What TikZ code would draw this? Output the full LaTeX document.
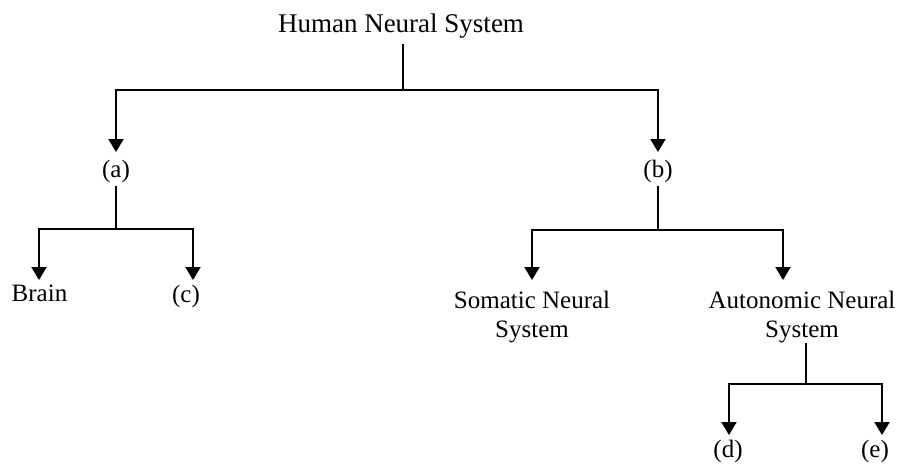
\documentclass[tikz,border=0pt]{standalone}
\usepackage{fontspec}
\setmainfont{Liberation Serif}
\usetikzlibrary{arrows.meta}
\begin{document}
\begin{tikzpicture}[x=1pt,y=-1pt,
  lbl/.style={inner sep=0pt, anchor=north, align=center, font=\fontsize{25}{29}\selectfont},
  ttl/.style={inner sep=0pt, anchor=north, font=\fontsize{27}{31}\selectfont},
  line/.style={line width=2pt},
  arr/.style={line width=2pt, -{Triangle[length=13pt,width=15pt]}}]
\useasboundingbox (0,0) rectangle (899,463);

% nodes
\node[ttl] (hns) at (401,13.5) {Human Neural System};
\node[lbl] (a) at (116,160) {(a)};
\node[lbl] (b) at (658,160) {(b)};
\node[lbl] (brain) at (39.5,285) {Brain};
\node[lbl] (c) at (186,285) {(c)};
\node[lbl] (som) at (532,291) {Somatic Neural\\System};
\node[lbl] (ans) at (802,291) {Autonomic Neural\\System};
\node[lbl] (d) at (728,440) {(d)};
\node[lbl] (e) at (875,440) {(e)};

% junctions
\coordinate (r0) at (403,90);
\coordinate (ra) at (116,229);
\coordinate (rb) at (658,230);
\coordinate (rc) at (806,384);

% connectors
\draw[line, shorten <=6pt] (hns.south -| r0) -- (r0);
\draw[arr] (r0) -| ([yshift=8pt]a.north);
\draw[arr] (r0) -| ([yshift=8pt]b.north);

\draw[line, shorten <=3pt] (a.south) -- (ra);
\draw[arr] (ra) -| ([xshift=-0.5pt,yshift=5pt]brain.north);
\draw[arr] (ra) -| ([xshift=7pt,yshift=5pt]c.north);

\draw[line, shorten <=3pt] (b.south) -- (rb);
\draw[arr] (rb) -| ([yshift=11pt]som.north);
\draw[arr] (rb) -| ([xshift=-19pt,yshift=11pt]ans.north);

\draw[line] (ans.south -| rc) -- (rc);
\draw[arr] (rc) -| ([xshift=1pt,yshift=5pt]d.north);
\draw[arr] (rc) -| ([xshift=7pt,yshift=5pt]e.north);
\end{tikzpicture}
\end{document}
